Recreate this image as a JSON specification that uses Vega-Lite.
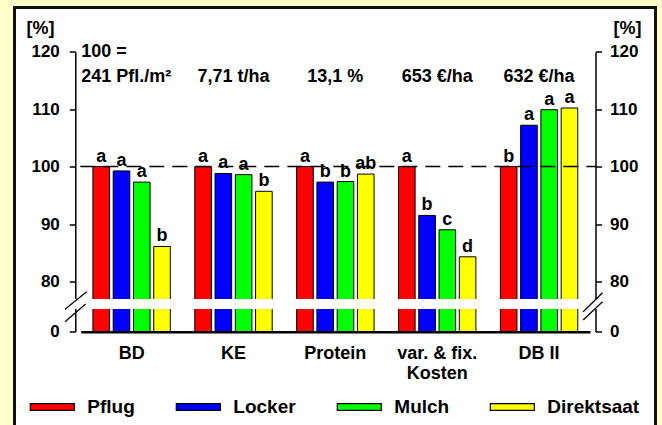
{
  "$schema": "https://vega.github.io/schema/vega-lite/v6.json",
  "width": 641,
  "height": 425,
  "autosize": {"type": "none"},
  "padding": {"left": 14.5, "top": 7.5, "right": 6.5, "bottom": -7.5},
  "background": "#FFFFCC",
  "config": {
    "view": {"fill": "white", "stroke": "#111111", "strokeWidth": 3},
    "font": "Liberation Sans",
    "axis": {
      "labelFont": "Liberation Sans",
      "labelFontWeight": "bold",
      "labelColor": "black",
      "titleFont": "Liberation Sans",
      "titleFontWeight": "bold",
      "titleColor": "black",
      "grid": false,
      "domainColor": "black",
      "tickColor": "black"
    },
    "text": {"font": "Liberation Sans", "fontWeight": "bold", "color": "black"}
  },
  "datasets": {
    "bars": [
      {"category": "BD", "series": "Pflug", "value": 100, "sig": "a"},
      {"category": "BD", "series": "Locker", "value": 99.25, "sig": "a"},
      {"category": "BD", "series": "Mulch", "value": 97.3, "sig": "a"},
      {"category": "BD", "series": "Direktsaat", "value": 86.1, "sig": "b"},
      {"category": "KE", "series": "Pflug", "value": 100, "sig": "a"},
      {"category": "KE", "series": "Locker", "value": 98.8, "sig": "a"},
      {"category": "KE", "series": "Mulch", "value": 98.6, "sig": "a"},
      {"category": "KE", "series": "Direktsaat", "value": 95.7, "sig": "b"},
      {"category": "Protein", "series": "Pflug", "value": 100, "sig": "a"},
      {"category": "Protein", "series": "Locker", "value": 97.3, "sig": "b"},
      {"category": "Protein", "series": "Mulch", "value": 97.4, "sig": "b"},
      {"category": "Protein", "series": "Direktsaat", "value": 98.7, "sig": "ab"},
      {"category": "var. & fix. Kosten", "series": "Pflug", "value": 100, "sig": "a"},
      {"category": "var. & fix. Kosten", "series": "Locker", "value": 91.5, "sig": "b"},
      {"category": "var. & fix. Kosten", "series": "Mulch", "value": 89.0, "sig": "c"},
      {"category": "var. & fix. Kosten", "series": "Direktsaat", "value": 84.3, "sig": "d"},
      {"category": "DB II", "series": "Pflug", "value": 100, "sig": "b"},
      {"category": "DB II", "series": "Locker", "value": 107.2, "sig": "a"},
      {"category": "DB II", "series": "Mulch", "value": 109.9, "sig": "a"},
      {"category": "DB II", "series": "Direktsaat", "value": 110.2, "sig": "a"}
    ],
    "notes": [
      {"category": "BD", "note": "100 =\n241 Pfl./m²"},
      {"category": "KE", "note": "7,71 t/ha"},
      {"category": "Protein", "note": "13,1 %"},
      {"category": "var. & fix. Kosten", "note": "653 €/ha"},
      {"category": "DB II", "note": "632 €/ha"}
    ],
    "one": [{"k": 1}]
  },
  "layer": [
    {
      "data": {"name": "bars"},
      "mark": {"type": "bar", "stroke": "black", "strokeWidth": 1},
      "encoding": {
        "x": {
          "field": "category",
          "type": "nominal",
          "sort": null,
          "scale": {
            "domain": ["BD", "KE", "Protein", "var. & fix. Kosten", "DB II"],
            "range": [66.2, 575.5],
            "paddingInner": 0.24,
            "paddingOuter": 0.12
          },
          "axis": {
            "orient": "bottom",
            "offset": -100.8,
            "title": null,
            "labelAngle": 0,
            "ticks": false,
            "tickSize": 0,
            "labelPadding": 13,
            "labelFontSize": 18,
            "labelLineHeight": 20,
            "domainWidth": 2.5,
            "labelExpr": "datum.value == 'var. & fix. Kosten' ? ['var. & fix.', 'Kosten'] : datum.label"
          }
        },
        "xOffset": {
          "field": "series",
          "type": "nominal",
          "scale": {
            "domain": ["Pflug", "Locker", "Mulch", "Direktsaat"],
            "paddingInner": 0.18,
            "paddingOuter": 0
          }
        },
        "y": {
          "field": "value",
          "type": "quantitative",
          "scale": {"domain": [0, 80, 120], "range": [324, 274, 44.2], "nice": false, "zero": false},
          "axis": {
            "orient": "left",
            "offset": -60.8,
            "values": [0, 80, 90, 100, 110, 120],
            "tickSize": 6,
            "tickWidth": 1.5,
            "domainWidth": 1.5,
            "labelPadding": 10,
            "labelFontSize": 17,
            "title": "[%]",
            "titleAngle": 0,
            "titleAlign": "left",
            "titleBaseline": "alphabetic",
            "titleX": -49.3,
            "titleY": 25.5,
            "titleFontSize": 18
          }
        },
        "color": {
          "field": "series",
          "type": "nominal",
          "scale": {
            "domain": ["Pflug", "Locker", "Mulch", "Direktsaat"],
            "range": ["#FF0000", "#0000FF", "#00FF00", "#FFFF00"]
          },
          "legend": {
            "orient": "none",
            "legendX": 14.8,
            "legendY": 376.5,
            "direction": "horizontal",
            "columns": 4,
            "columnPadding": 38,
            "title": null,
            "labelOffset": 12,
            "labelFontSize": 19,
            "labelFontWeight": "bold",
            "labelFont": "Liberation Sans",
            "labelColor": "black",
            "symbolType": "M-1,-0.15H1V0.15H-1Z",
            "symbolSize": 1936,
            "symbolStrokeColor": "black",
            "symbolStrokeWidth": 1.2,
            "symbolOpacity": 1
          }
        }
      }
    },
    {
      "data": {"name": "one"},
      "mark": {"type": "rule", "stroke": "white", "strokeWidth": 10, "strokeCap": "butt", "xOffset": -59.3, "x2Offset": 61.8},
      "encoding": {
        "x": {"datum": "BD", "type": "nominal"},
        "x2": {"datum": "DB II"},
        "y": {"datum": 44, "type": "quantitative", "axis": null}
      }
    },
    {
      "data": {"name": "one"},
      "mark": {"type": "rule", "stroke": "black", "strokeWidth": 1.3, "xOffset": -66.6, "x2Offset": -45},
      "encoding": {
        "x": {"datum": "BD", "type": "nominal"},
        "x2": {"datum": "BD"},
        "y": {"datum": 35.5, "type": "quantitative", "axis": null},
        "y2": {"datum": 63.7}
      }
    },
    {
      "data": {"name": "one"},
      "mark": {"type": "rule", "stroke": "black", "strokeWidth": 1.3, "xOffset": -66.6, "x2Offset": -46},
      "encoding": {
        "x": {"datum": "BD", "type": "nominal"},
        "x2": {"datum": "BD"},
        "y": {"datum": 15.7, "type": "quantitative", "axis": null},
        "y2": {"datum": 44}
      }
    },
    {
      "data": {"name": "one"},
      "mark": {"type": "rule", "stroke": "black", "strokeWidth": 1.3, "xOffset": 44.1, "x2Offset": 63.5},
      "encoding": {
        "x": {"datum": "DB II", "type": "nominal"},
        "x2": {"datum": "DB II"},
        "y": {"datum": 31.7, "type": "quantitative", "axis": null},
        "y2": {"datum": 62.1}
      }
    },
    {
      "data": {"name": "one"},
      "mark": {"type": "rule", "stroke": "black", "strokeWidth": 1.3, "xOffset": 44.1, "x2Offset": 63.5},
      "encoding": {
        "x": {"datum": "DB II", "type": "nominal"},
        "x2": {"datum": "DB II"},
        "y": {"datum": 18.4, "type": "quantitative", "axis": null},
        "y2": {"datum": 47.7}
      }
    },
    {
      "data": {"name": "one"},
      "mark": {"type": "rule", "stroke": "black", "strokeWidth": 1.5, "strokeDash": [15, 8], "xOffset": -51.3, "x2Offset": 56.8},
      "encoding": {
        "x": {"datum": "BD", "type": "nominal"},
        "x2": {"datum": "DB II"},
        "y": {
          "datum": 100,
          "type": "quantitative",
          "axis": {
            "orient": "right",
            "offset": -60,
            "values": [0, 80, 90, 100, 110, 120],
            "tickSize": 6,
            "tickWidth": 1.5,
            "domainWidth": 1.5,
            "labelPadding": 8,
            "labelFontSize": 17,
            "title": "[%]",
            "titleAngle": 0,
            "titleAlign": "right",
            "titleBaseline": "alphabetic",
            "titleX": 45.5,
            "titleY": 25.5,
            "titleFontSize": 18
          }
        }
      }
    },
    {
      "data": {"name": "bars"},
      "mark": {"type": "text", "baseline": "bottom", "dy": -1, "fontSize": 18, "fontWeight": "bold"},
      "encoding": {
        "x": {"field": "category", "type": "nominal"},
        "xOffset": {"field": "series", "type": "nominal"},
        "y": {"field": "value", "type": "quantitative", "axis": null},
        "text": {"field": "sig"}
      }
    },
    {
      "data": {"name": "notes"},
      "transform": [{"filter": "datum.category == 'BD'"}],
      "mark": {"type": "text", "align": "left", "baseline": "alphabetic", "lineBreak": "\n", "lineHeight": 24.4, "dx": -50.3, "fontSize": 18, "fontWeight": "bold"},
      "encoding": {
        "x": {"field": "category", "type": "nominal"},
        "y": {"datum": 119, "type": "quantitative", "axis": null},
        "text": {"field": "note"}
      }
    },
    {
      "data": {"name": "notes"},
      "transform": [{"filter": "datum.category != 'BD'"}],
      "mark": {"type": "text", "align": "center", "baseline": "alphabetic", "fontSize": 18, "fontWeight": "bold"},
      "encoding": {
        "x": {"field": "category", "type": "nominal"},
        "y": {"datum": 114.8, "type": "quantitative", "axis": null},
        "text": {"field": "note"}
      }
    }
  ],
  "resolve": {"axis": {"y": "independent"}}
}
